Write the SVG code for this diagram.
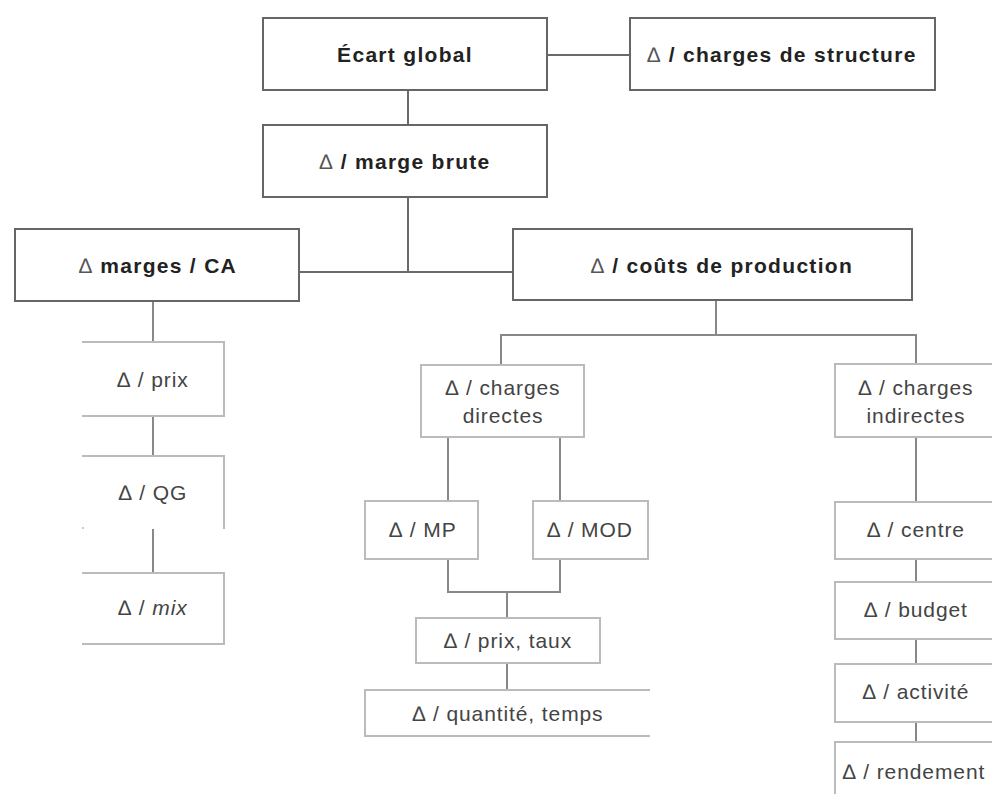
<svg xmlns="http://www.w3.org/2000/svg" width="992" height="794" viewBox="0 0 992 794">
<style>
.main{fill:#fff;stroke:#666;stroke-width:2}
.sub{fill:none;stroke:#bbb;stroke-width:2}
.con{fill:none;stroke:#6a6a6a;stroke-width:2}
.con2{fill:none;stroke:#888;stroke-width:2}
.tb{font-family:"Liberation Sans",Arial,sans-serif;font-size:21px;font-weight:bold;letter-spacing:1.3px;fill:#222;text-anchor:middle}
.tr{font-family:"Liberation Sans",Arial,sans-serif;font-size:21px;letter-spacing:0.9px;fill:#444;text-anchor:middle}
.d{font-weight:normal;fill:#555}
</style>
<rect width="992" height="794" fill="#fff"/>
<g id="connectors">
<path class="con" d="M547 55H630M408 90V125M408 197V272M299 272H513"/>
<path class="con2" d="M716 300V335M501 365V335H916V365M916 437V502M916 559V582M916 639V664M916 722V742"/>
<path class="con2" d="M153 301V342M153 416V456M153 529V573"/>
<path class="con2" d="M448 437V501M560 437V501M448 559V592H560V559M507 592V618M507 663V690"/>
</g>
<g id="n-ecart"><rect class="main" x="263" y="18" width="284" height="72"/><text class="tb" x="405" y="62">Écart global</text></g>
<g id="n-structure"><rect class="main" x="630" y="18" width="305" height="72"/><text class="tb" x="782" y="62"><tspan class="d">∆</tspan> / charges de structure</text></g>
<g id="n-marge"><rect class="main" x="263" y="125" width="284" height="72"/><text class="tb" x="405" y="169"><tspan class="d">∆</tspan> / marge brute</text></g>
<g id="n-margesCA"><rect class="main" x="15" y="229" width="284" height="72"/><text class="tb" x="158" y="273"><tspan class="d">∆</tspan> marges / CA</text></g>
<g id="n-couts"><rect class="main" x="513" y="229" width="399" height="71"/><text class="tb" x="722" y="273"><tspan class="d">∆</tspan> / coûts de production</text></g>
<g id="n-prix"><path class="sub" d="M82 342H224V416H82"/><text class="tr" x="153" y="387">∆ / prix</text></g>
<g id="n-qg"><path class="sub" d="M82 456H224V529"/><circle cx="83" cy="528" r="1" fill="#bbb"/><text class="tr" x="153" y="500">∆ / QG</text></g>
<g id="n-mix"><path class="sub" d="M82 573H224V644H82"/><text class="tr" x="153" y="615">∆ / <tspan font-style="italic">mix</tspan></text></g>
<g id="n-cdir"><rect class="sub" x="421" y="365" width="163" height="72"/><text class="tr" x="503" y="395">∆ / charges</text><text class="tr" x="503" y="423">directes</text></g>
<g id="n-mp"><rect class="sub" x="365" y="501" width="113" height="58"/><text class="tr" x="423" y="537">∆ / MP</text></g>
<g id="n-mod"><rect class="sub" x="533" y="501" width="115" height="58"/><text class="tr" x="590" y="537">∆ / MOD</text></g>
<g id="n-prixtaux"><rect class="sub" x="416" y="618" width="184" height="45"/><text class="tr" x="508" y="648">∆ / prix, taux</text></g>
<g id="n-qte"><path class="sub" d="M650 690H365V736H650"/><text class="tr" x="508" y="721">∆ / quantité, temps</text></g>
<g id="n-cind"><path class="sub" d="M992 364H835V437H992"/><text class="tr" x="916" y="395">∆ / charges</text><text class="tr" x="916" y="423">indirectes</text></g>
<g id="n-centre"><path class="sub" d="M992 502H835V559H992"/><text class="tr" x="916" y="537">∆ / centre</text></g>
<g id="n-budget"><path class="sub" d="M992 582H835V639H992"/><text class="tr" x="916" y="617">∆ / budget</text></g>
<g id="n-activite"><path class="sub" d="M992 664H835V722H992"/><text class="tr" x="916" y="699">∆ / activité</text></g>
<g id="n-rendement"><path class="sub" d="M992 742H835V794"/><text class="tr" x="914" y="779">∆ / rendement</text></g>
</svg>
